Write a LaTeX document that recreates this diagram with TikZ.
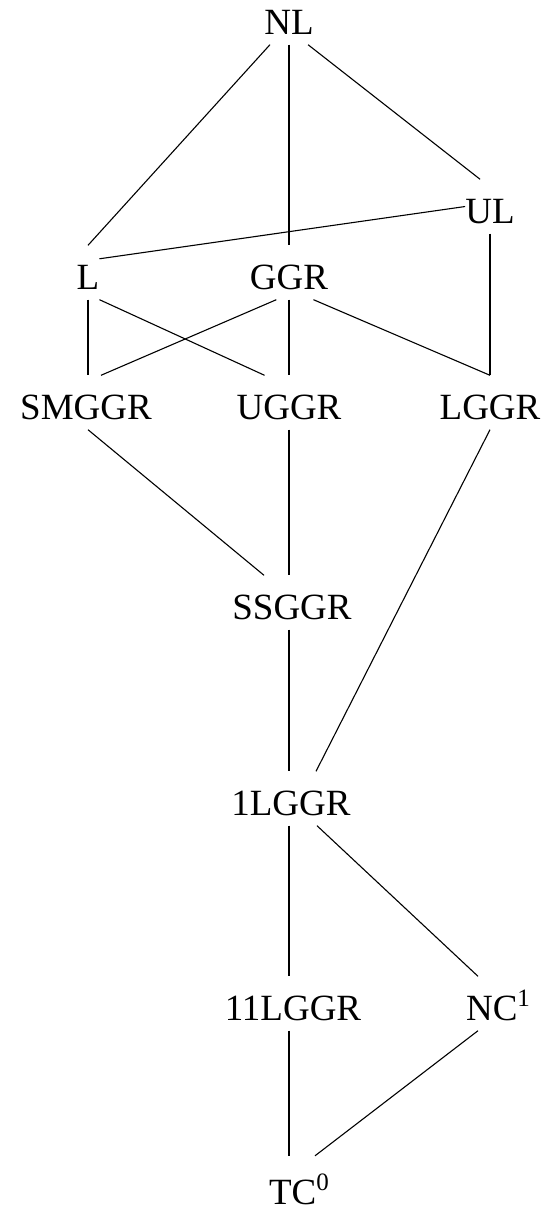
\documentclass[tikz,border=0pt]{standalone}
\usepackage{fontspec}
\setmainfont{Liberation Serif}

\newcommand{\supnum}[1]{\raisebox{14pt}{\fontsize{25}{27}\selectfont #1}}

\begin{document}
\begin{tikzpicture}[x=1pt, y=-1pt]

\useasboundingbox (0,0) rectangle (544,1212);

\begin{scope}[every node/.style={rectangle, inner sep=0pt, text height=44pt, text depth=10pt, font=\fontsize{37}{40}\selectfont}]
    \node (nl) at (289,17.5) {NL};
    \node (ul) at (490,206.5) {UL};
    \node (l) at (88,272.5) {L};
    \node (ggr) at (289,272.5) {GGR};
    \node (smggr) at (86,402.5) {SMGGR};
    \node (uggr) at (289,402.5) {UGGR};
    \node (lggr) at (490,402.5) {LGGR};
    \node (ssggr) at (292,602.5) {SSGGR};
    \node (lggr1) at (291,798.5) {1LGGR};
    \node (lggr11) at (293,1003.5) {11LGGR};
    \node (nc1) at (498,1003.5) {NC\supnum{1}};
    \node[text height=48pt, text depth=0pt] (tc0) at (299,1180) {TC\supnum{0}};
\end{scope}

\begin{scope}[line width=1.1pt]
    \draw (nl.-125) -- (l.north);
    \draw (nl.south -| ggr.south) -- (ggr.north);
    \draw (nl.-55) -- (ul.110);
    \draw (ul.west) -- (l.50);
    \draw (ul.south) -- (lggr.north);
    \draw (l.south) -- (l.south |- smggr.north);
    \draw (l.south east) -- (uggr.132);
    \draw (ggr.-115) -- ([xshift=13pt]l.south |- smggr.north);
    \draw (ggr.south) -- (uggr.north);
    \draw (ggr.-48) -- (lggr.north);
    \draw (l.south |- smggr.south) -- ([xshift=-25pt]ggr.south |- ssggr.north);
    \draw (uggr.south) -- (uggr.south |- ssggr.north);
    \draw (lggr.south) -- ([xshift=27pt]ggr.south |- lggr1.north);
    \draw (ggr.south |- ssggr.south) -- (ggr.south |- lggr1.north);
    \draw (ggr.south |- lggr1.south) -- (ggr.south |- lggr11.north);
    \draw ([xshift=28pt]ggr.south |- lggr1.south) -- ([xshift=-12pt]lggr.south |- nc1.north);
    \draw (ggr.south |- lggr11.south) -- (ggr.south |- tc0.north);
    \draw ([xshift=-12pt]lggr.south |- nc1.south) -- ([xshift=26pt]ggr.south |- tc0.north);
\end{scope}

\end{tikzpicture}
\end{document}
